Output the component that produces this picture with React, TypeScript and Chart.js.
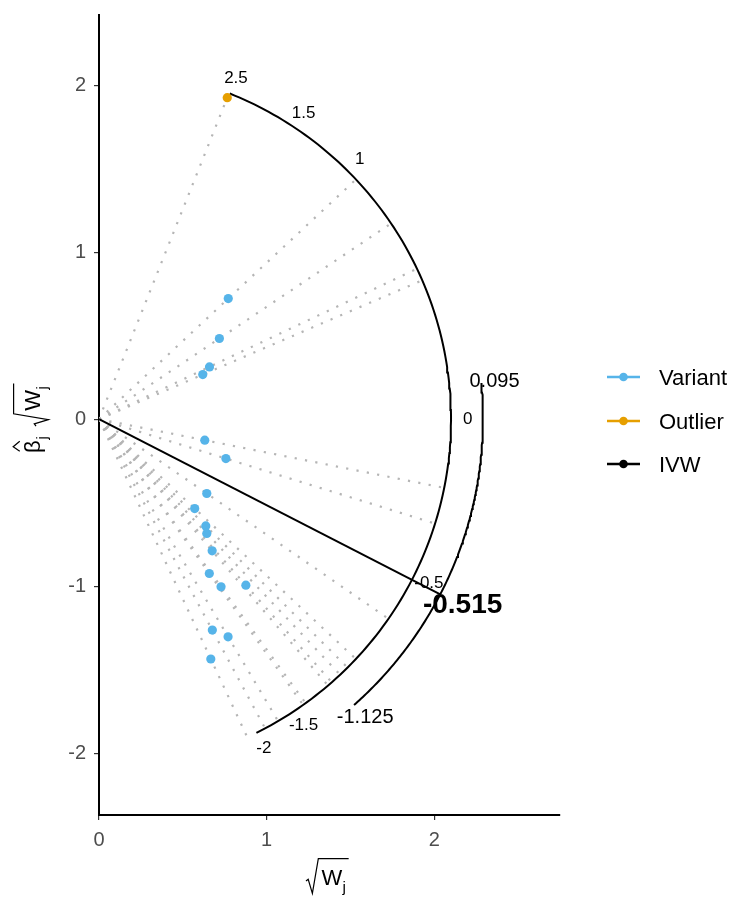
import React, { useEffect, useRef } from "react";
import { Chart, registerables } from "chart.js";

Chart.register(...registerables);

// Radial IVW plot: each variant at (sqrt(W_j), beta_j * sqrt(W_j))
const variantSqrtW = [0.771, 0.718, 0.659, 0.619, 0.631, 0.757, 0.643, 0.571, 0.637, 0.643, 0.675, 0.658, 0.728, 0.876, 0.676, 0.77, 0.667];
const variantBetaSqrtW = [0.722, 0.483, 0.313, 0.267, -0.126, -0.236, -0.445, -0.535, -0.639, -0.684, -0.788, -0.924, -1.004, -0.994, -1.263, -1.303, -1.436];
const outlierSqrtW = [0.765];
const outlierBetaSqrtW = [1.925];

// IVW estimate and its confidence interval
const ivwEstimate = -0.515;
const ivwInterval = [-1.125, 0.095];

// Ratio-estimate scale drawn along the arc
const arcTicks = [2.5, 1.5, 1, 0, -0.5, -1.5, -2];
const arcRange = [-2, 2.5];

const xTicks = [0, 1, 2];
const yTicks = [-2, -1, 0, 1, 2];

const legendLabels = ["Variant", "Outlier", "IVW"];

const BLUE = "#56B4E9";
const ORANGE = "#E69F00";
const FONT = '"Liberation Sans", Arial, sans-serif';

// geometry of the two arcs
const R_SCALE = 2.1;
const R_SCALE_LABEL = 2.2;
const R_CI = 2.29;

const toPolar = (r: number, ratio: number) => {
  const a = Math.atan(ratio);
  return { x: r * Math.cos(a), y: r * Math.sin(a) };
};

const arcPoints = (r: number, lo: number, hi: number) => {
  const a0 = Math.atan(lo);
  const a1 = Math.atan(hi);
  const n = 150;
  const pts: { x: number; y: number }[] = [];
  for (let i = 0; i <= n; i++) {
    const a = a0 + ((a1 - a0) * i) / n;
    pts.push({ x: r * Math.cos(a), y: r * Math.sin(a) });
  }
  return pts;
};

// sqrt(W_j) in plotmath style, baseline at (x0, base)
function drawSqrtW(ctx: CanvasRenderingContext2D, x0: number, base: number, s: number) {
  ctx.font = `${s}px ${FONT}`;
  const wx = x0 + 0.7 * s;
  const ww = ctx.measureText("W").width;
  ctx.fillText("W", wx, base);
  ctx.font = `${0.7 * s}px ${FONT}`;
  const jx = wx + ww + 0.02 * s;
  const jw = ctx.measureText("j").width;
  ctx.fillText("j", jx, base + 0.3 * s);
  const end = jx + jw + 0.12 * s;
  ctx.beginPath();
  ctx.moveTo(x0, base - 0.18 * s);
  ctx.lineTo(x0 + 0.1 * s, base - 0.26 * s);
  ctx.lineTo(x0 + 0.29 * s, base + 0.38 * s);
  ctx.lineTo(x0 + 0.56 * s, base - 1.2 * s);
  ctx.lineTo(end, base - 1.2 * s);
  ctx.lineWidth = 1.2;
  ctx.stroke();
}

// beta-hat_j, returns the advance
function drawBetaHat(ctx: CanvasRenderingContext2D, x0: number, base: number, s: number) {
  ctx.font = `${s}px ${FONT}`;
  const bw = ctx.measureText("\u03B2").width;
  ctx.fillText("\u03B2", x0, base);
  ctx.beginPath();
  ctx.moveTo(x0 + 0.08 * s, base - 0.92 * s);
  ctx.lineTo(x0 + bw / 2, base - 1.22 * s);
  ctx.lineTo(x0 + bw - 0.04 * s, base - 0.92 * s);
  ctx.lineWidth = 1.2;
  ctx.stroke();
  ctx.font = `${0.7 * s}px ${FONT}`;
  const jx = x0 + bw + 0.04 * s;
  ctx.fillText("j", jx, base + 0.3 * s);
  return bw + 0.04 * s + ctx.measureText("j").width;
}

const decorations = {
  id: "radialDecorations",
  afterDatasetsDraw(chart: any) {
    const { ctx } = chart;
    const xs = chart.scales.x;
    const ys = chart.scales.y;
    const px = (p: { x: number; y: number }) => [xs.getPixelForValue(p.x), ys.getPixelForValue(p.y)];
    ctx.save();
    ctx.fillStyle = "#000";
    ctx.textAlign = "center";
    ctx.textBaseline = "middle";

    ctx.font = `17px ${FONT}`;
    arcTicks.forEach((v) => {
      const [x, y] = px(toPolar(R_SCALE_LABEL, v));
      ctx.fillText(String(v), x, y);
    });

    ctx.font = `20px ${FONT}`;
    {
      const [x, y] = px(toPolar(2.37, ivwInterval[1]));
      ctx.fillText(String(ivwInterval[1]), x, y);
    }
    {
      const [x, y] = px(toPolar(2.39, ivwInterval[0]));
      ctx.fillText(String(ivwInterval[0]), x, y);
    }
    ctx.font = `bold 28px ${FONT}`;
    {
      const [x, y] = px(toPolar(2.44, ivwEstimate));
      ctx.fillText(String(ivwEstimate), x, y);
    }
    ctx.restore();
  },
  afterDraw(chart: any) {
    const { ctx } = chart;
    ctx.save();
    ctx.fillStyle = "#000";
    ctx.strokeStyle = "#000";
    ctx.textAlign = "left";
    ctx.textBaseline = "alphabetic";

    // x-axis title
    drawSqrtW(ctx, 306, 885, 22);

    // y-axis title, rotated
    ctx.save();
    ctx.translate(40, 453);
    ctx.rotate(-Math.PI / 2);
    const adv = drawBetaHat(ctx, 0, 0, 22);
    drawSqrtW(ctx, adv + 10, 0, 22);
    ctx.restore();

    // legend
    const colors = [BLUE, ORANGE, "#000"];
    const rows = [377, 421, 464];
    legendLabels.forEach((lab, i) => {
      const y = rows[i];
      ctx.strokeStyle = colors[i];
      ctx.fillStyle = colors[i];
      ctx.lineWidth = 2.5;
      ctx.beginPath();
      ctx.moveTo(607, y);
      ctx.lineTo(640, y);
      ctx.stroke();
      ctx.beginPath();
      ctx.arc(623.5, y, 4.3, 0, Math.PI * 2);
      ctx.fill();
      ctx.fillStyle = "#000";
      ctx.font = `22px ${FONT}`;
      ctx.textBaseline = "middle";
      ctx.fillText(lab, 659, y + 2);
    });
    ctx.restore();
  },
};

export default function App() {
  const ref = useRef<HTMLCanvasElement | null>(null);

  useEffect(() => {
    if (!ref.current) return;

    const variants = variantSqrtW.map((x, i) => ({ x, y: variantBetaSqrtW[i] }));
    const outliers = outlierSqrtW.map((x, i) => ({ x, y: outlierBetaSqrtW[i] }));

    // dotted rays from the origin through each variant to the scale arc
    const rays = [...outliers, ...variants].map((p) => ({
      data: [{ x: 0, y: 0 }, toPolar(R_SCALE, p.y / p.x)],
      showLine: true,
      borderColor: "#B5B5B5",
      borderWidth: 2.2,
      borderDash: [2.2, 8.3],
      pointRadius: 0,
    }));

    const chart = new Chart(ref.current, {
      type: "scatter",
      data: {
        datasets: [
          {
            label: "Variant",
            data: variants,
            backgroundColor: BLUE,
            borderColor: BLUE,
            pointRadius: 4.6,
            borderWidth: 0,
          },
          {
            label: "Outlier",
            data: outliers,
            backgroundColor: ORANGE,
            borderColor: ORANGE,
            pointRadius: 4.6,
            borderWidth: 0,
          },
          {
            label: "IVW",
            data: [{ x: 0, y: 0 }, toPolar(R_CI, ivwEstimate)],
            showLine: true,
            borderColor: "#000",
            borderWidth: 2,
            pointRadius: 0,
          },
          {
            label: "scale",
            data: arcPoints(R_SCALE, arcRange[0], arcRange[1]),
            showLine: true,
            borderColor: "#000",
            borderWidth: 2,
            pointRadius: 0,
          },
          {
            label: "interval",
            data: arcPoints(R_CI, ivwInterval[0], ivwInterval[1]),
            showLine: true,
            borderColor: "#000",
            borderWidth: 2,
            pointRadius: 0,
          },
          ...rays,
        ] as any,
      },
      options: {
        responsive: false,
        animation: false,
        devicePixelRatio: 1,
        layout: { padding: { left: 0, top: 15, right: 173, bottom: 0 } },
        plugins: { legend: { display: false }, tooltip: { enabled: false } },
        scales: {
          x: {
            type: "linear",
            min: 0,
            max: 2.75,
            afterBuildTicks: (s: any) => {
              s.ticks = xTicks.map((value) => ({ value }));
            },
            afterFit: (s: any) => {
              s.height = 83;
              s.paddingLeft = 0;
              s.paddingRight = 0;
            },
            grid: { drawOnChartArea: false, drawTicks: true, tickLength: 5, color: "#333333", lineWidth: 1.2 },
            border: { display: true, color: "#000", width: 2 },
            ticks: { font: { family: FONT, size: 20 }, color: "#4D4D4D", padding: 8, maxRotation: 0 },
          },
          y: {
            type: "linear",
            min: -2.37,
            max: 2.42,
            afterBuildTicks: (s: any) => {
              s.ticks = yTicks.map((value) => ({ value }));
            },
            afterFit: (s: any) => {
              s.width = 99;
              s.paddingTop = 0;
              s.paddingBottom = 0;
            },
            grid: { drawOnChartArea: false, drawTicks: true, tickLength: 5, color: "#333333", lineWidth: 1.2 },
            border: { display: true, color: "#000", width: 2 },
            ticks: { font: { family: FONT, size: 20 }, color: "#4D4D4D", padding: 8 },
          },
        },
      } as any,
      plugins: [decorations],
    });

    return () => chart.destroy();
  }, []);

  return (
    <div style={{ position: "absolute", left: 0, top: 0, width: 733, height: 898, background: "#fff" }}>
      <canvas ref={ref} width={733} height={898} style={{ display: "block" }} />
    </div>
  );
}
